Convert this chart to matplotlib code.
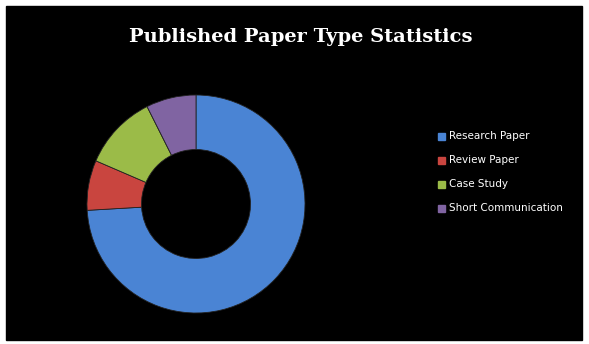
import matplotlib
matplotlib.use('Agg')
import matplotlib.pyplot as plt
from matplotlib.patches import Rectangle

# data
labels = ['Research Paper', 'Review Paper', 'Case Study', 'Short Communication']
counts = [40, 4, 6, 4]
colors = ['#4A84D4', '#C9453F', '#9BBB48', '#8064A2']
TITLE = 'Published Paper Type Statistics'

W, H = 589, 344
fig = plt.figure(figsize=(W / 100, H / 100), dpi=100)
fig.patch.set_facecolor('white')

# black chart area with white margin
bg = fig.add_axes([0, 0, 1, 1]); bg.set_xlim(0, W); bg.set_ylim(H, 0); bg.axis('off')
bg.add_patch(Rectangle((6, 6), 576, 334, color='black'))

# donut: centre (196, 204), outer radius 109 px
cx, cy, r = 196, 204, 109
ax = fig.add_axes([(cx - r) / W, 1 - (cy + r) / H, 2 * r / W, 2 * r / H])
ax.pie(counts, colors=colors, startangle=90, counterclock=False,
       radius=1.0, wedgeprops=dict(width=0.5, edgecolor='#222222', linewidth=0.6))
ax.set_xlim(-1, 1); ax.set_ylim(-1, 1); ax.set_aspect('auto')

bg.text(301, 37, TITLE, fontsize=14, fontweight='bold', family='DejaVu Serif',
        color='white', ha='center', va='center')

# legend
for i, (lab, c) in enumerate(zip(labels, colors)):
    y = 136 + 24 * i
    bg.add_patch(Rectangle((438, y - 3.5), 7, 7, color=c))
    bg.text(449, y, lab, fontsize=7.5, color='white', va='center', ha='left',
            family='DejaVu Sans')

fig.savefig('out.png', dpi=100, facecolor='white')
